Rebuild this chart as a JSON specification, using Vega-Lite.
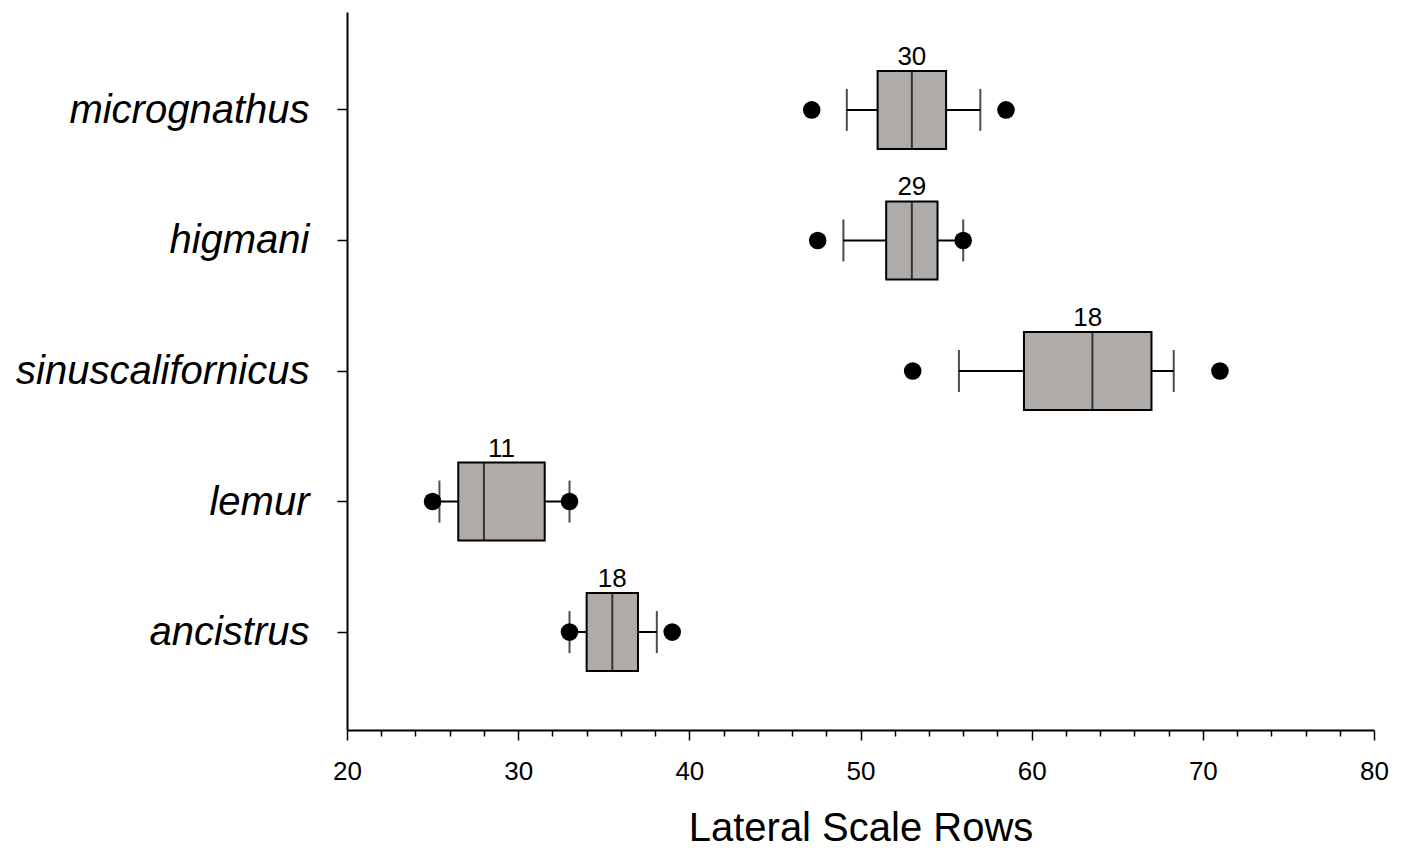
{
  "$schema": "https://vega.github.io/schema/vega-lite/v6.json",
  "width": 1027,
  "height": 718,
  "autosize": "none",
  "padding": {"left": 347, "top": 12, "right": 30, "bottom": 120},
  "background": "white",
  "config": {
    "view": {"stroke": null},
    "font": "Liberation Sans",
    "axis": {"domainColor": "black", "tickColor": "black", "labelColor": "black", "titleColor": "black", "grid": false, "domainWidth": 2, "tickWidth": 1.5}
  },
  "datasets": {
    "boxes": [
      {"species": "micrognathus", "wlo": 49.2, "q1": 51.0, "median": 53.0, "q3": 55.0, "whi": 57.0, "n": 30},
      {"species": "higmani", "wlo": 49.0, "q1": 51.5, "median": 53.0, "q3": 54.5, "whi": 56.0, "n": 29},
      {"species": "sinuscalifornicus", "wlo": 55.75, "q1": 59.55, "median": 63.55, "q3": 67.0, "whi": 68.3, "n": 18},
      {"species": "lemur", "wlo": 25.4, "q1": 26.5, "median": 28.0, "q3": 31.55, "whi": 33.0, "n": 11},
      {"species": "ancistrus", "wlo": 33.0, "q1": 34.0, "median": 35.5, "q3": 37.0, "whi": 38.1, "n": 18}
    ],
    "outliers": [
      {"species": "micrognathus", "value": 47.15},
      {"species": "micrognathus", "value": 58.5},
      {"species": "higmani", "value": 47.5},
      {"species": "higmani", "value": 56.0},
      {"species": "sinuscalifornicus", "value": 53.05},
      {"species": "sinuscalifornicus", "value": 71.0},
      {"species": "lemur", "value": 25.0},
      {"species": "lemur", "value": 33.0},
      {"species": "ancistrus", "value": 33.0},
      {"species": "ancistrus", "value": 39.0}
    ]
  },
  "resolve": {"axis": {"x": "independent"}},
  "layer": [
    {
      "data": {"name": "boxes"},
      "mark": {"type": "rule", "color": "black", "strokeWidth": 2},
      "encoding": {
        "y": {"field": "species", "type": "nominal", "sort": ["micrognathus", "higmani", "sinuscalifornicus", "lemur", "ancistrus"],
          "scale": {"paddingInner": 0, "paddingOuter": 0.25},
          "axis": {"title": null, "labelFont": "Liberation Sans", "labelFontStyle": "italic", "labelFontSize": 40, "tickSize": 10, "labelPadding": 28, "labelLimit": 400, "labelBaseline": "middle", "labelOffset": 1}},
        "x": {"field": "wlo", "type": "quantitative", "scale": {"domain": [20, 80], "nice": false, "zero": false},
          "axis": {"values": [20, 30, 40, 50, 60, 70, 80], "tickSize": 10, "labelFontSize": 26, "labelFlush": false, "labelPadding": 18, "title": "Lateral Scale Rows", "titleFontSize": 40, "titleFontWeight": "normal", "titlePadding": 24, "orient": "bottom", "domain": true}},
        "x2": {"field": "whi"}
      }
    },
    {
      "data": {"name": "boxes"},
      "mark": {"type": "tick", "color": "black", "thickness": 2, "size": 42},
      "encoding": {
        "y": {"field": "species", "type": "nominal", "sort": ["micrognathus", "higmani", "sinuscalifornicus", "lemur", "ancistrus"]},
        "x": {"field": "wlo", "type": "quantitative",
          "axis": {"values": [22, 24, 26, 28, 32, 34, 36, 38, 42, 44, 46, 48, 52, 54, 56, 58, 62, 64, 66, 68, 72, 74, 76, 78], "tickSize": 6, "labels": false, "title": null, "domain": false, "orient": "bottom"}}
      }
    },
    {
      "data": {"name": "boxes"},
      "mark": {"type": "tick", "color": "black", "thickness": 2, "size": 42},
      "encoding": {
        "y": {"field": "species", "type": "nominal", "sort": ["micrognathus", "higmani", "sinuscalifornicus", "lemur", "ancistrus"]},
        "x": {"field": "whi", "type": "quantitative", "axis": null}
      }
    },
    {
      "data": {"name": "boxes"},
      "mark": {"type": "bar", "fill": "#afaba8", "stroke": "black", "strokeWidth": 2, "size": 78},
      "encoding": {
        "y": {"field": "species", "type": "nominal", "sort": ["micrognathus", "higmani", "sinuscalifornicus", "lemur", "ancistrus"]},
        "x": {"field": "q1", "type": "quantitative", "axis": null},
        "x2": {"field": "q3"}
      }
    },
    {
      "data": {"name": "boxes"},
      "mark": {"type": "tick", "color": "black", "thickness": 2, "size": 78},
      "encoding": {
        "y": {"field": "species", "type": "nominal", "sort": ["micrognathus", "higmani", "sinuscalifornicus", "lemur", "ancistrus"]},
        "x": {"field": "median", "type": "quantitative", "axis": null}
      }
    },
    {
      "data": {"name": "outliers"},
      "mark": {"type": "circle", "color": "black", "opacity": 1, "size": 310},
      "encoding": {
        "y": {"field": "species", "type": "nominal", "sort": ["micrognathus", "higmani", "sinuscalifornicus", "lemur", "ancistrus"]},
        "x": {"field": "value", "type": "quantitative", "axis": null}
      }
    },
    {
      "data": {"name": "boxes"},
      "transform": [{"calculate": "(datum.q1 + datum.q3) / 2", "as": "mid"}],
      "mark": {"type": "text", "color": "black", "fontSize": 26, "baseline": "bottom", "dy": -40, "font": "Liberation Sans"},
      "encoding": {
        "y": {"field": "species", "type": "nominal", "sort": ["micrognathus", "higmani", "sinuscalifornicus", "lemur", "ancistrus"]},
        "x": {"field": "mid", "type": "quantitative", "axis": null},
        "text": {"field": "n", "type": "quantitative"}
      }
    }
  ]
}
